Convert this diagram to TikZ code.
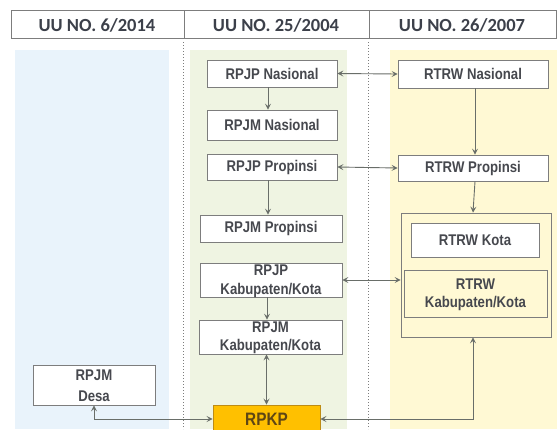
\documentclass[tikz,border=0pt]{standalone}
\usepackage{fontspec}
\setmainfont{Liberation Sans}
\newfontfamily\boxfont[FakeStretch=0.85]{Liberation Sans}
\newfontfamily\headfont{Carlito}
\usetikzlibrary{arrows.meta,calc}
\definecolor{bluebg}{RGB}{233,243,251}
\definecolor{greenbg}{RGB}{239,244,226}
\definecolor{yellowbg}{RGB}{255,249,212}
\definecolor{boxline}{RGB}{125,125,125}
\definecolor{arrgray}{RGB}{105,110,105}
\definecolor{txtgray}{RGB}{70,72,78}
\definecolor{rpkpfill}{RGB}{255,192,0}
\definecolor{rpkpline}{RGB}{190,140,20}
\definecolor{rpkptxt}{RGB}{95,70,20}
\definecolor{headtxt}{RGB}{60,64,74}
\tikzset{
  plainbox/.style={draw=boxline, line width=0.8pt, fill=white, inner sep=0pt,
    font=\boxfont\bfseries\fontsize{15.5}{19}\selectfont, text=txtgray, align=center},
  lbl/.style={inner sep=0pt, font=\boxfont\bfseries\fontsize{15.5}{19}\selectfont, text=txtgray, align=center},
  arrtwo/.style={draw=arrgray, line width=0.9pt, {Stealth[length=6pt,width=6pt,inset=2.5pt]}-{Stealth[length=6pt,width=6pt,inset=2.5pt]}},
  arrone/.style={draw=arrgray, line width=0.9pt, -{Stealth[length=6pt,width=6pt,inset=2.5pt]}},
  headlbl/.style={inner sep=0pt, font=\headfont\bfseries\fontsize{18.5}{20}\selectfont, text=headtxt}
}
\begin{document}
\begin{tikzpicture}[x=1pt,y=-1pt]
\clip (0,0) rectangle (557,429);
\fill[white] (0,0) rectangle (557,429);
% panels
\fill[bluebg] (15,50) rectangle (169,429);
\fill[greenbg] (190,50) rectangle (347,429);
\fill[yellowbg] (390,50) rectangle (557,429);
% dotted dividers
\draw[boxline, dotted, line width=1pt] (183,42) -- (183,429);
\draw[boxline, dotted, line width=1pt] (368,42) -- (368,429);
% header
\draw[boxline, line width=0.9pt] (11,10) rectangle (556,38);
\draw[boxline, line width=0.9pt] (184,10) -- (184,38);
\draw[boxline, line width=0.9pt] (369,10) -- (369,38);
\node[headlbl] (h1) at (97,25) {UU NO. 6/2014};
\node[headlbl] (h2) at (276,25) {UU NO. 25/2004};
\node[headlbl] (h3) at (462,25) {UU NO. 26/2007};
% middle column
\node[plainbox, minimum width=130pt, minimum height=27pt] (pjpn) at (272,73.5) {RPJP Nasional};
\node[plainbox, minimum width=130pt, minimum height=30pt] (pjmn) at (272,125) {RPJM Nasional};
\node[plainbox, minimum width=130pt, minimum height=26pt] (pjpp) at (272,167) {RPJP Propinsi};
\node[plainbox, minimum width=142pt, minimum height=27pt] (pjmp) at (271,228.5) {RPJM Propinsi};
\node[plainbox, minimum width=142pt, minimum height=34pt] (pjpk) at (271,280) {};
\node[lbl] (pjpkt1) at (271,270) {RPJP};
\node[lbl] (pjpkt2) at (271,290) {Kabupaten/Kota};
\node[plainbox, minimum width=143pt, minimum height=34pt] (pjmk) at (270.5,337) {};
\node[lbl] (pjmkt1) at (270.5,327) {RPJM};
\node[lbl] (pjmkt2) at (270.5,346) {Kabupaten/Kota};
\node[draw=rpkpline, line width=0.9pt, fill=rpkpfill, minimum width=107pt, minimum height=28pt, inner sep=0pt,
  font=\boxfont\bfseries\fontsize{18}{20}\selectfont, text=rpkptxt] (rpkp) at (266.5,419) {RPKP};
% left column
\node[plainbox, minimum width=122pt, minimum height=40pt] (desa) at (94,385) {};
\node[lbl] (desat1) at (94,375) {RPJM};
\node[lbl] (desat2) at (94,396) {Desa};
% right column
\node[plainbox, minimum width=150pt, minimum height=28pt] (rtrwn) at (473,74) {RTRW Nasional};
\node[plainbox, minimum width=150pt, minimum height=26pt] (rtrwp) at (473,168) {RTRW Propinsi};
\node[draw=boxline, line width=0.8pt, minimum width=150pt, minimum height=124pt, inner sep=0pt] (outer) at (476,275) {};
\node[plainbox, minimum width=128pt, minimum height=34pt] (rtrwk) at (475,240) {RTRW Kota};
\node[draw=boxline, line width=0.8pt, minimum width=143pt, minimum height=47pt, inner sep=0pt] (rtrwkk) at (475.5,293.5) {};
\node[lbl] (rtrwkkt1) at (475.5,284) {RTRW};
\node[lbl] (rtrwkkt2) at (475.5,303) {Kabupaten/Kota};
% connectors
\draw[arrtwo] (pjpn.east) -- (rtrwn.west);
\draw[arrtwo] (pjpp.east) -- (rtrwp.west);
\draw[arrtwo] (pjpk.east) -- (pjpk.east -| outer.west);
\draw[arrone] ([xshift=-4pt]pjpn.south) -- ([xshift=-4pt]pjmn.north);
\draw[arrone] ([xshift=-4pt]pjpp.south) -- ([xshift=-3pt]pjmp.north);
\draw[arrone] ([xshift=-4pt]pjpk.south) -- ([xshift=-3.5pt]pjmk.north);
\draw[arrtwo] (rpkp.north |- pjmk.south) -- (rpkp.north);
\draw[arrone] ([xshift=2pt]rtrwn.south) -- ([xshift=2pt]rtrwp.north);
\draw[arrone] ([xshift=2pt]rtrwp.south) -- (rtrwp.south |- outer.north);
\draw[arrtwo] (desa.south) |- (rpkp.west);
\draw[arrtwo] (rpkp.east) -| ([xshift=-3pt]outer.south);
\end{tikzpicture}
\end{document}
